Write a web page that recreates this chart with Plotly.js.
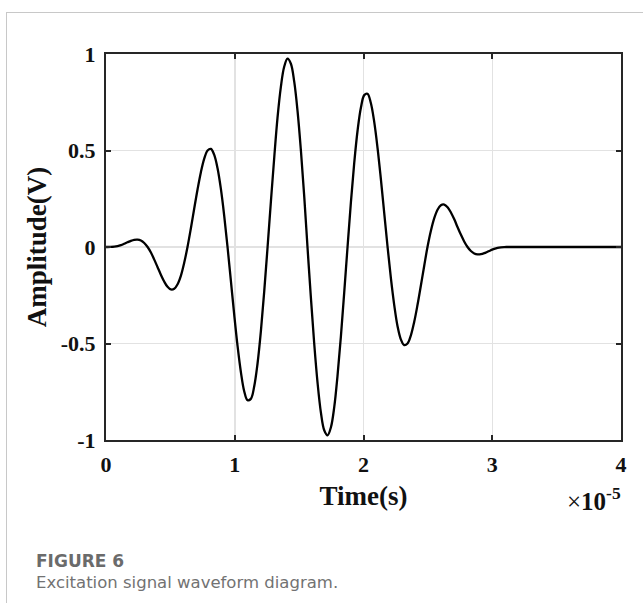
<!DOCTYPE html>
<html>
<head>
<meta charset="utf-8">
<script src="https://cdn.plot.ly/plotly-3.0.1.min.js"></script>
<style>
  html, body { margin: 0; padding: 0; background: #fff; }
  #wrap { position: relative; width: 643px; height: 603px; overflow: hidden; }
  #chart { position: absolute; left: 0; top: 0; width: 643px; height: 603px; }
  #frame { position: absolute; left: 6px; top: 12px; right: -2px; bottom: -2px;
           border-left: 1px solid #c8c8c8; border-top: 1px solid #c8c8c8; pointer-events: none; }
</style>
</head>
<body>
<div id="wrap">
  <div id="chart"></div>
  <div id="frame"></div>
</div>
<script>
// Time in units of 1e-5 s (axis multiplier shown as ×10^-5)
const timeValues = [
  0, 0.038, 0.064, 0.090, 0.116, 0.141, 0.167, 0.193, 0.219, 0.245, 0.271, 0.297,
  0.323, 0.349, 0.374, 0.400, 0.426, 0.452, 0.478, 0.504, 0.530, 0.556, 0.582, 0.607,
  0.633, 0.659, 0.685, 0.711, 0.737, 0.763, 0.789, 0.815, 0.840, 0.866, 0.892, 0.918,
  0.944, 0.970, 0.996, 1.022, 1.048, 1.073, 1.099, 1.125, 1.151, 1.177, 1.203, 1.229,
  1.255, 1.281, 1.307, 1.332, 1.358, 1.384, 1.410, 1.436, 1.462, 1.488, 1.514, 1.540,
  1.565, 1.591, 1.617, 1.643, 1.669, 1.695, 1.721, 1.747, 1.773, 1.798, 1.824, 1.850,
  1.876, 1.902, 1.928, 1.954, 1.980, 2.006, 2.031, 2.057, 2.083, 2.109, 2.135, 2.161,
  2.187, 2.213, 2.239, 2.264, 2.290, 2.316, 2.342, 2.368, 2.394, 2.420, 2.446, 2.472,
  2.497, 2.523, 2.549, 2.575, 2.601, 2.627, 2.653, 2.679, 2.705, 2.730, 2.756, 2.782,
  2.808, 2.834, 2.860, 2.886, 2.912, 2.938, 2.963, 2.989, 3.015, 3.041, 3.067, 3.093,
  3.119, 3.3, 4.0];
// Amplitude in volts
const amplitudeValues = [
  0, 0.0002, 0.0014, 0.0044, 0.0095, 0.0165, 0.0245, 0.0321, 0.0374, 0.0385, 0.0335, 0.0209,
  0, -0.0288, -0.0642, -0.1036, -0.1433, -0.1790, -0.2061, -0.2199, -0.2165, -0.1930, -0.1483, -0.0830,
  0, 0.0959, 0.1980, 0.2982, 0.3877, 0.4577, 0.5000, 0.5082, 0.4783, 0.4089, 0.3020, 0.1629,
  0, -0.1758, -0.3517, -0.5141, -0.6495, -0.7460, -0.7939, -0.7869, -0.7227, -0.6036, -0.4358, -0.2300,
  0, 0.2379, 0.4665, 0.6686, 0.8286, 0.9338, 0.9755, 0.9494, 0.8565, 0.7028, 0.4986, 0.2586,
  0, -0.2586, -0.4986, -0.7028, -0.8565, -0.9494, -0.9755, -0.9338, -0.8286, -0.6686, -0.4665, -0.2379,
  0, 0.2300, 0.4358, 0.6036, 0.7227, 0.7869, 0.7939, 0.7460, 0.6495, 0.5141, 0.3517, 0.1758,
  0, -0.1629, -0.3020, -0.4089, -0.4783, -0.5082, -0.5000, -0.4577, -0.3877, -0.2982, -0.1980, -0.0959,
  0, 0.0830, 0.1483, 0.1930, 0.2165, 0.2199, 0.2061, 0.1790, 0.1433, 0.1036, 0.0642, 0.0288,
  0, -0.0209, -0.0335, -0.0385, -0.0374, -0.0321, -0.0245, -0.0165, -0.0095, -0.0044, -0.0014, -0.0002,
  0, 0, 0];

const xTickVals = [0, 1, 2, 3, 4];
const xTickText = ['0', '1', '2', '3', '4'];
const yTickVals = [-1, -0.5, 0, 0.5, 1];
const yTickText = ['-1', '-0.5', '0', '0.5', '1'];

const serif = 'Liberation Serif, Times New Roman, serif';
const sans = 'DejaVu Sans, Open Sans, sans-serif';

const trace = {
  x: timeValues,
  y: amplitudeValues,
  type: 'scatter',
  mode: 'lines',
  line: { color: '#000000', width: 2.3, shape: 'spline', smoothing: 1 },
  hoverinfo: 'skip'
};

const axisCommon = {
  showline: true, mirror: 'ticks', linecolor: '#262626', linewidth: 2,
  ticks: 'inside', ticklen: 5, tickwidth: 2, tickcolor: '#262626',
  showgrid: true, gridcolor: '#e2e2e2', gridwidth: 1.5,
  zeroline: false,
  tickfont: { family: serif, size: 22, color: '#111', weight: 'bold' }
};

const layout = {
  width: 643, height: 603,
  margin: { l: 106, r: 22, t: 54, b: 163 },
  paper_bgcolor: 'rgba(0,0,0,0)',
  plot_bgcolor: '#ffffff',
  showlegend: false,
  xaxis: Object.assign({}, axisCommon, {
    range: [0, 4], tickmode: 'array', tickvals: xTickVals, ticktext: xTickText,
    ticklabelstandoff: 4,
    title: { text: 'Time(s)', font: { family: serif, size: 27, color: '#111', weight: 'bold' }, standoff: 10 }
  }),
  yaxis: Object.assign({}, axisCommon, {
    range: [-1, 1], tickmode: 'array', tickvals: yTickVals, ticktext: yTickText,
    ticklabelstandoff: 4,
    title: { text: 'Amplitude(V)', font: { family: serif, size: 27, color: '#111', weight: 'bold' }, standoff: 6 }
  }),
  annotations: [
    { xref: 'paper', yref: 'paper', x: 1.004, y: -0.105, xanchor: 'right', yanchor: 'top',
      text: '×<b>10</b><sup><b>-5</b></sup>', showarrow: false,
      font: { family: serif, size: 25, color: '#111' } },
    { xref: 'paper', yref: 'paper', x: -0.139, y: -0.313, xanchor: 'left', yanchor: 'middle',
      text: 'FIGURE 6', showarrow: false,
      font: { family: sans, size: 17, color: '#6b6b6b', weight: 600 } },
    { xref: 'paper', yref: 'paper', x: -0.139, y: -0.368, xanchor: 'left', yanchor: 'middle',
      text: 'Excitation signal waveform diagram.', showarrow: false,
      font: { family: sans, size: 16.5, color: '#727272' } }
  ]
};

Plotly.newPlot('chart', [trace], layout, { staticPlot: true, displayModeBar: false });
</script>
</body>
</html>
